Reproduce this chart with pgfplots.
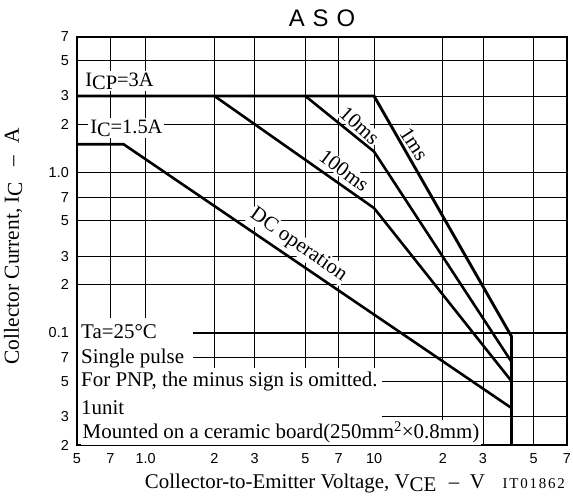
\documentclass[border=0pt]{standalone}
\usepackage{fontspec}
\setmainfont{Liberation Serif}
\setsansfont{Liberation Sans}
\usepackage{pgfplots}
\pgfplotsset{compat=1.18}
\newcommand{\sub}[1]{\raisebox{-0.32ex}{#1}}
\begin{document}
\fontsize{21}{24}\selectfont
\begin{tikzpicture}
\begin{axis}[
  scale only axis, width=490bp, height=408bp,
  xmode=log, ymode=log, xmin=0.5, xmax=70, ymin=0.02, ymax=7,
  xtick={0.5,0.7,1,2,3,5,7,10,20,30,50,70},
  xticklabels={5,7,\raisebox{-4bp}{1.0},2,3,5,7,\raisebox{-4bp}{10},2,3,5,7},
  ytick={0.02,0.03,0.05,0.07,0.1,0.2,0.3,0.5,0.7,1,2,3,5,7},
  yticklabels={2,3,5,7,0.1,2,3,5,7,1.0,2,3,5,7},
  extra x ticks={1,10}, extra x tick labels={},
  extra y ticks={0.1,1}, extra y tick labels={},
  extra tick style={major grid style={black, line width=1.05bp}},
  tick label style={font=\sffamily\fontsize{14.5}{15}\selectfont},
  xticklabel style={yshift=-1bp},
  yticklabel style={xshift=-1bp},
  major tick length=0pt,
  grid=major, major grid style={black, line width=0.75bp},
  axis line style={black, line width=1.1bp},
  xlabel={Collector-to-Emitter Voltage, V\sub{CE}\hspace{0.6em}--\hspace{0.5em}V},
  ylabel={Collector Current, I\sub{C}\hspace{0.7em}--\hspace{0.6em}A},
  xlabel style={at={(axis description cs:0.4857,-0.1054)}, anchor=base},
  ylabel style={at={(axis description cs:-0.1184,0.4877)}, anchor=base, font=\fontsize{21.5}{24}\selectfont},
  clip=false,
]
\coordinate (SW) at (rel axis cs:0,0);
\coordinate (NE) at (rel axis cs:1,1);
% blank region of the grid behind the notes
\fill[white] (axis cs:0.505,0.0203) rectangle (axis cs:1.61,0.124);
\fill[white] (axis cs:0.505,0.0203) rectangle (axis cs:10.86,0.0604);
% notes
\node[anchor=base west, inner sep=0pt] at (axis cs:0.5207,0.0929) {Ta=25°C};
\node[anchor=base west, inner sep=0pt] at (axis cs:0.5207,0.0640) {Single pulse};
\node[anchor=base west, inner sep=0pt] at (axis cs:0.5207,0.0460) {For PNP, the minus sign is omitted.};
\node[anchor=base west, inner sep=0pt] at (axis cs:0.5207,0.0312) {1unit};
\node[anchor=base west, inner sep=1.5bp, fill=white] at (axis cs:0.5207,0.0218) {Mounted on a ceramic board(250mm\textsuperscript{2}×0.8mm)};
% curve labels
\node[anchor=base west, inner sep=2bp, fill=white, font=\fontsize{20.5}{24}\selectfont] at (axis cs:0.532,3.46) {I\sub{CP}=3A};
\node[anchor=base west, inner sep=2bp, fill=white, font=\fontsize{20.5}{24}\selectfont] at (axis cs:0.559,1.763) {I\sub{C}=1.5A};
\node[rotate=-42, inner sep=1bp, fill=white] at (axis cs:8.65,1.95) {10ms};
\node[rotate=-57, inner sep=1bp, fill=white] at (axis cs:14.97,1.505) {1ms};
\node[rotate=-37, inner sep=1bp, fill=white] at (axis cs:7.40,1.03) {100ms};
\node[rotate=-35, inner sep=1bp, fill=white] at (axis cs:4.65,0.3531) {DC operation};
% SOA curves
\addplot[black, line width=2.9bp, line join=miter] coordinates {(0.5,3) (10,3) (40,0.095)};
\addplot[black, line width=2.6bp] coordinates {(5,3) (10,1.35) (40,0.066)};
\addplot[black, line width=2.6bp] coordinates {(2,3) (10,0.6) (40,0.05)};
\addplot[black, line width=2.6bp] coordinates {(0.5,1.5) (0.8,1.5) (40,0.034)};
\addplot[black, line width=2.9bp] coordinates {(40,0.095) (40,0.02)};
% title
\node[anchor=base, font=\sffamily\fontsize{24}{24}\selectfont] at (axis description cs:0.5,1.0245) {A\,\,S\,\,O};
\node[anchor=base east, font=\fontsize{15}{16}\selectfont\addfontfeature{LetterSpace=12}, inner sep=0pt] at (axis description cs:0.9959,-0.1054) {IT01862};
\end{axis}
\pgfresetboundingbox
\path ([xshift=-77bp,yshift=-52bp]SW) rectangle ([xshift=6bp,yshift=37bp]NE);
\end{tikzpicture}
\end{document}
